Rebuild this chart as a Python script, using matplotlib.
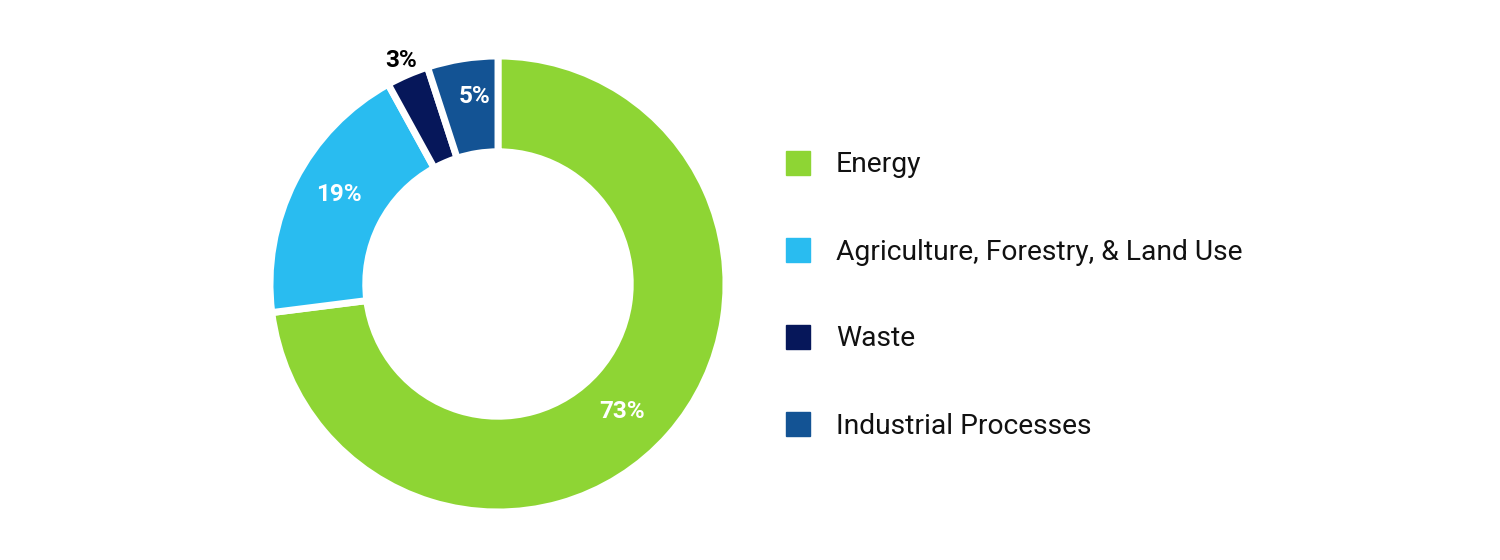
import matplotlib
matplotlib.use("Agg")
import matplotlib.pyplot as plt
import numpy as np

plt.rcParams['font.family'] = ['Roboto', 'DejaVu Sans']

sectors = ['Energy', 'Agriculture, Forestry, & Land Use', 'Waste', 'Industrial Processes']
shares = [73, 19, 3, 5]
colors = ['#8ED534', '#29BCF0', '#06175A', '#135394']
label_colors = ['white', 'white', 'black', 'white']
label_dist = [0.78, 0.80, 1.07, 0.83]
label_shift = [-4.5, -2.5, 0, -2]  # degrees, nudges labels like the original

fig = plt.figure(figsize=(15, 5.6), dpi=100)
cx, cy, r = 498, 284, 228
ax = fig.add_axes([(cx - r) / 1500, (560 - cy - r) / 560, 2 * r / 1500, 2 * r / 560])

wedges, _ = ax.pie(shares, colors=colors, startangle=90, counterclock=False,
                   wedgeprops=dict(width=0.42, edgecolor='white', linewidth=5))
ax.set_xlim(-1, 1)
ax.set_ylim(-1, 1)
ax.set_aspect('equal')

for w, v, c, d, s in zip(wedges, shares, label_colors, label_dist, label_shift):
    ang = np.deg2rad((w.theta1 + w.theta2) / 2 + s)
    ax.text(d * np.cos(ang), d * np.sin(ang), f'{v}%', color=c, fontsize=17.5,
            fontweight='bold', ha='center', va='center')

# legend drawn by hand to match spacing
lax = fig.add_axes([0, 0, 1, 1])
lax.set_xlim(0, 1500)
lax.set_ylim(560, 0)
lax.axis('off')
for i, (name, col) in enumerate(zip(sectors, colors)):
    y = 163 + i * 87
    lax.add_patch(plt.Rectangle((786, y - 12), 24, 24, color=col))
    lax.text(836, y + 2, name, fontsize=20.3, va='center', ha='left', color='#111111')

fig.savefig('out.png', dpi=100)
